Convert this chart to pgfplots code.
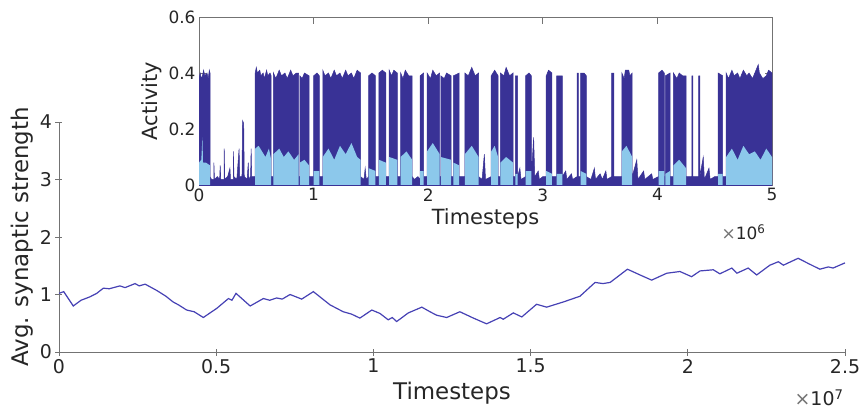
\documentclass[border=0pt]{standalone}
\usepackage{fontspec}
\setmainfont{DejaVu Sans}
\usepackage{pgfplots}
\pgfplotsset{compat=1.18}

\definecolor{actdark}{RGB}{57,50,150}
\definecolor{actlight}{RGB}{140,200,235}
\definecolor{wline}{RGB}{70,65,180}
\definecolor{axgray}{RGB}{115,115,115}
\definecolor{txt}{RGB}{38,38,38}

\pgfplotsset{
  matlabish/.style={
    scale only axis,
    axis line style={draw=axgray, line width=0.9bp},
    tick align=inside,
    major tick length=7bp,
    every tick/.style={axgray, line width=0.9bp},
    /pgf/number format/assume math mode=true,
    ticklabel style={text=txt},
    label style={text=txt},
  }
}

\begin{document}
\begin{tikzpicture}[x=1bp,y=1bp]
\useasboundingbox (-59,-62) rectangle (804,352);

% main panel: average synaptic strength
\begin{axis}[
  matlabish,
  at={(0bp,0bp)}, anchor=south west,
  width=786bp, height=230bp,
  xmin=0, xmax=2.5, ymin=0, ymax=4,
  axis lines=left,
  axis line style={-},
  xtick={0,0.5,1,1.5,2,2.5}, ytick={0,1,2,3,4},
  ticklabel style={font=\fontsize{19}{19}\selectfont},
  xlabel={Timesteps}, ylabel={Avg. synaptic strength},
  label style={font=\fontsize{23}{23}\selectfont},
  xlabel style={yshift=-2bp},
]
\addplot[wline, line width=1.2bp] coordinates {
(0,1.02)(0.015,1.05)(0.0455,0.80)(0.07,0.90)(0.0986,0.96)(0.12,1.02)(0.141,1.11)
(0.16,1.10)(0.194,1.15)(0.21,1.12)(0.242,1.19)(0.255,1.15)(0.274,1.18)(0.311,1.07)
(0.34,0.97)(0.363,0.87)(0.38,0.82)(0.406,0.73)(0.43,0.70)(0.459,0.60)(0.502,0.76)
(0.539,0.93)(0.55,0.90)(0.563,1.02)(0.608,0.80)(0.650,0.93)(0.67,0.90)(0.692,0.94)
(0.71,0.92)(0.735,1.00)(0.772,0.92)(0.809,1.05)(0.862,0.82)(0.904,0.70)(0.93,0.66)
(0.957,0.59)(0.995,0.73)(1.021,0.67)(1.047,0.56)(1.06,0.60)(1.074,0.53)(1.111,0.68)
(1.154,0.78)(1.180,0.70)(1.201,0.64)(1.233,0.60)(1.275,0.70)(1.318,0.59)(1.360,0.49)
(1.403,0.60)(1.413,0.57)(1.445,0.68)(1.472,0.61)(1.519,0.83)(1.551,0.78)(1.604,0.87)
(1.657,0.97)(1.705,1.21)(1.73,1.19)(1.753,1.21)(1.808,1.44)(1.848,1.34)(1.885,1.25)
(1.933,1.37)(1.975,1.40)(2.012,1.31)(2.039,1.41)(2.081,1.43)(2.102,1.36)(2.140,1.46)
(2.156,1.37)(2.192,1.46)(2.219,1.34)(2.261,1.51)(2.288,1.57)(2.304,1.51)(2.351,1.63)
(2.383,1.54)(2.420,1.44)(2.447,1.48)(2.462,1.46)(2.5,1.55)
};
\end{axis}
\node[anchor=east, text=txt, font=\fontsize{19}{19}\selectfont] at (788,-46) {{\color{axgray}×}10\textsuperscript{7}};

% inset: activity
\begin{axis}[
  matlabish,
  at={(140bp,167bp)}, anchor=south west,
  width=573bp, height=168bp,
  xmin=0, xmax=5, ymin=0, ymax=0.6,
  xtick={0,1,2,3,4,5}, ytick={0,0.2,0.4,0.6},
  axis background/.style={fill=white},
  ticklabel style={font=\fontsize{17}{17}\selectfont},
  xlabel={Timesteps}, ylabel={Activity},
  label style={font=\fontsize{21}{21}\selectfont},
]
\addplot[draw=actdark, fill=actdark, line width=0.5bp] coordinates {
(0,0.38)(0.01,0.40)(0.02,0.38)(0.03,0.39)(0.04,0.41)(0.05,0.39)(0.07,0.40)(0.08,0.38)(0.09,0.41)(0.096,0.40)(0.096,0.03)
(0.11,0.02)(0.13,0.02)(0.13,0.08)(0.135,0.02)(0.16,0.03)(0.18,0.02)(0.185,0.07)(0.19,0.02)
(0.22,0.02)(0.22,0.13)(0.225,0.02)(0.25,0.03)(0.27,0.06)(0.275,0.02)(0.30,0.02)(0.30,0.12)
(0.305,0.03)(0.33,0.02)(0.35,0.13)(0.355,0.03)(0.375,0.03)(0.38,0.23)(0.39,0.22)(0.395,0.03)
(0.42,0.02)(0.43,0.08)(0.435,0.02)(0.45,0.03)(0.455,0.13)(0.46,0.03)(0.49,0.03)
(0.49,0.40)(0.50,0.42)(0.51,0.40)(0.53,0.41)(0.54,0.39)(0.56,0.40)(0.57,0.38)(0.59,0.41)(0.60,0.39)(0.62,0.40)(0.63,0.39)(0.63,0.03)(0.65,0.03)
(0.65,0.40)(0.67,0.38)(0.70,0.41)(0.72,0.39)(0.75,0.40)(0.77,0.38)(0.80,0.41)(0.82,0.39)(0.85,0.40)(0.87,0.40)(0.87,0.03)(0.88,0.03)
(0.88,0.39)(0.90,0.38)(0.92,0.40)(0.96,0.39)(0.96,0.03)(1.00,0.03)
(1.00,0.39)(1.03,0.40)(1.05,0.39)(1.05,0.03)(1.08,0.03)
(1.08,0.41)(1.10,0.39)(1.13,0.40)(1.15,0.38)(1.18,0.41)(1.20,0.39)(1.23,0.40)(1.25,0.38)(1.28,0.41)(1.30,0.39)(1.33,0.40)(1.35,0.38)(1.38,0.41)(1.41,0.40)(1.41,0.03)
(1.44,0.02)(1.45,0.06)(1.46,0.02)(1.48,0.03)
(1.48,0.39)(1.51,0.40)(1.54,0.39)(1.54,0.03)(1.57,0.03)
(1.57,0.40)(1.60,0.41)(1.63,0.40)(1.63,0.03)(1.66,0.03)
(1.66,0.41)(1.68,0.39)(1.70,0.41)(1.73,0.40)(1.73,0.03)(1.76,0.03)
(1.76,0.40)(1.78,0.38)(1.80,0.41)(1.83,0.39)(1.86,0.39)(1.86,0.03)
(1.88,0.02)(1.91,0.03)(1.93,0.02)
(1.93,0.39)(1.96,0.40)(1.96,0.03)(1.99,0.03)
(1.99,0.40)(2.02,0.38)(2.04,0.41)(2.07,0.39)(2.10,0.40)(2.10,0.03)(2.11,0.03)
(2.11,0.39)(2.14,0.38)(2.16,0.40)(2.20,0.39)(2.20,0.03)(2.22,0.03)
(2.22,0.39)(2.27,0.40)(2.27,0.03)(2.32,0.03)
(2.32,0.40)(2.35,0.39)(2.38,0.42)(2.41,0.39)(2.44,0.40)(2.44,0.03)
(2.47,0.02)(2.49,0.11)(2.50,0.02)(2.55,0.03)
(2.55,0.39)(2.58,0.41)(2.61,0.39)(2.61,0.03)(2.63,0.03)
(2.63,0.40)(2.66,0.39)(2.68,0.42)(2.71,0.39)(2.74,0.40)(2.74,0.03)(2.76,0.03)
(2.76,0.39)(2.78,0.39)(2.78,0.03)
(2.80,0.06)(2.81,0.02)(2.85,0.03)
(2.85,0.39)(2.88,0.40)(2.90,0.39)(2.90,0.03)
(2.92,0.17)(2.93,0.03)(2.96,0.05)(2.97,0.02)(3.00,0.03)(3.03,0.03)
(3.03,0.39)(3.05,0.41)(3.08,0.40)(3.08,0.03)(3.12,0.03)
(3.12,0.39)(3.17,0.39)(3.17,0.03)
(3.20,0.05)(3.21,0.02)(3.25,0.04)(3.26,0.02)(3.30,0.03)
(3.30,0.40)(3.31,0.40)(3.31,0.03)(3.33,0.03)
(3.33,0.40)(3.36,0.40)(3.38,0.39)(3.38,0.03)
(3.42,0.02)(3.45,0.06)(3.46,0.02)(3.50,0.04)(3.52,0.02)(3.55,0.05)(3.56,0.02)(3.60,0.03)
(3.60,0.40)(3.62,0.40)(3.62,0.03)(3.69,0.03)
(3.69,0.40)(3.71,0.38)(3.72,0.41)(3.75,0.41)(3.76,0.39)(3.78,0.40)(3.78,0.03)
(3.82,0.09)(3.83,0.02)(3.88,0.05)(3.89,0.02)(3.95,0.04)(3.96,0.02)(4.01,0.03)
(4.01,0.40)(4.04,0.41)(4.06,0.40)(4.06,0.03)(4.07,0.03)
(4.07,0.39)(4.11,0.40)(4.11,0.03)(4.14,0.03)
(4.14,0.40)(4.17,0.38)(4.19,0.40)(4.22,0.39)(4.25,0.39)(4.25,0.03)
(4.30,0.03)(4.30,0.39)(4.31,0.39)(4.31,0.03)
(4.36,0.03)(4.36,0.39)(4.37,0.39)(4.37,0.03)
(4.40,0.10)(4.41,0.02)(4.45,0.06)(4.46,0.02)(4.50,0.03)(4.53,0.03)
(4.53,0.40)(4.57,0.39)(4.57,0.03)(4.60,0.03)
(4.60,0.40)(4.62,0.38)(4.65,0.41)(4.67,0.39)(4.70,0.40)(4.72,0.38)(4.75,0.41)(4.78,0.39)(4.80,0.40)(4.83,0.38)(4.85,0.40)(4.88,0.43)(4.89,0.40)
(4.92,0.38)(4.95,0.39)(4.97,0.41)(5.00,0.40)
} \closedcycle;
\addplot[draw=none, fill=actlight] coordinates {
(0,0)(0,0.08)(0.02,0.09)(0.03,0.17)(0.035,0.08)(0.06,0.08)(0.096,0.07)(0.096,0)
(0.49,0)(0.49,0.13)(0.52,0.14)(0.55,0.12)(0.58,0.10)(0.61,0.13)(0.63,0.09)(0.63,0)
(0.65,0)(0.65,0.11)(0.70,0.13)(0.74,0.10)(0.78,0.12)(0.83,0.09)(0.87,0.11)(0.87,0)
(0.88,0)(0.88,0.08)(0.92,0.09)(0.96,0.07)(0.96,0)
(1.00,0)(1.00,0.05)(1.05,0.05)(1.05,0)
(1.08,0)(1.08,0.10)(1.13,0.13)(1.18,0.09)(1.23,0.14)(1.28,0.11)(1.33,0.15)(1.38,0.10)(1.41,0.09)(1.41,0)
(1.48,0)(1.48,0.06)(1.54,0.05)(1.54,0)
(1.57,0)(1.57,0.09)(1.63,0.08)(1.63,0)
(1.66,0)(1.66,0.10)(1.73,0.09)(1.73,0)
(1.76,0)(1.76,0.10)(1.81,0.12)(1.86,0.09)(1.86,0)
(1.93,0)(1.93,0.05)(1.96,0.05)(1.96,0)
(1.99,0)(1.99,0.12)(2.04,0.15)(2.10,0.11)(2.10,0)
(2.11,0)(2.11,0.10)(2.20,0.09)(2.20,0)
(2.22,0)(2.22,0.08)(2.27,0.07)(2.27,0)
(2.32,0)(2.32,0.11)(2.38,0.14)(2.44,0.10)(2.44,0)
(2.55,0)(2.55,0.12)(2.58,0.14)(2.61,0.10)(2.61,0)
(2.63,0)(2.63,0.08)(2.68,0.10)(2.74,0.08)(2.74,0)
(2.76,0)(2.76,0.04)(2.78,0.04)(2.78,0)
(2.85,0)(2.85,0.05)(2.90,0.05)(2.90,0)
(3.03,0)(3.03,0.05)(3.08,0.04)(3.08,0)
(3.12,0)(3.12,0.04)(3.17,0.04)(3.17,0)
(3.33,0)(3.33,0.05)(3.38,0.04)(3.38,0)
(3.69,0)(3.69,0.12)(3.73,0.14)(3.78,0.10)(3.78,0)
(4.01,0)(4.01,0.05)(4.06,0.05)(4.06,0)
(4.07,0)(4.07,0.04)(4.11,0.05)(4.11,0)
(4.14,0)(4.14,0.07)(4.19,0.09)(4.25,0.06)(4.25,0)
(4.53,0)(4.53,0.04)(4.57,0.04)(4.57,0)
(4.60,0)(4.60,0.10)(4.65,0.13)(4.70,0.09)(4.75,0.14)(4.80,0.11)(4.85,0.12)(4.90,0.09)(4.95,0.13)(5.00,0.10)(5.00,0)
};
\addplot[actdark, line width=0.8bp] coordinates {(0,0)(5,0)};
\end{axis}
\node[anchor=east, text=txt, font=\fontsize{17}{17}\selectfont] at (710,120) {{\color{axgray}×}10\textsuperscript{6}};

\end{tikzpicture}
\end{document}
